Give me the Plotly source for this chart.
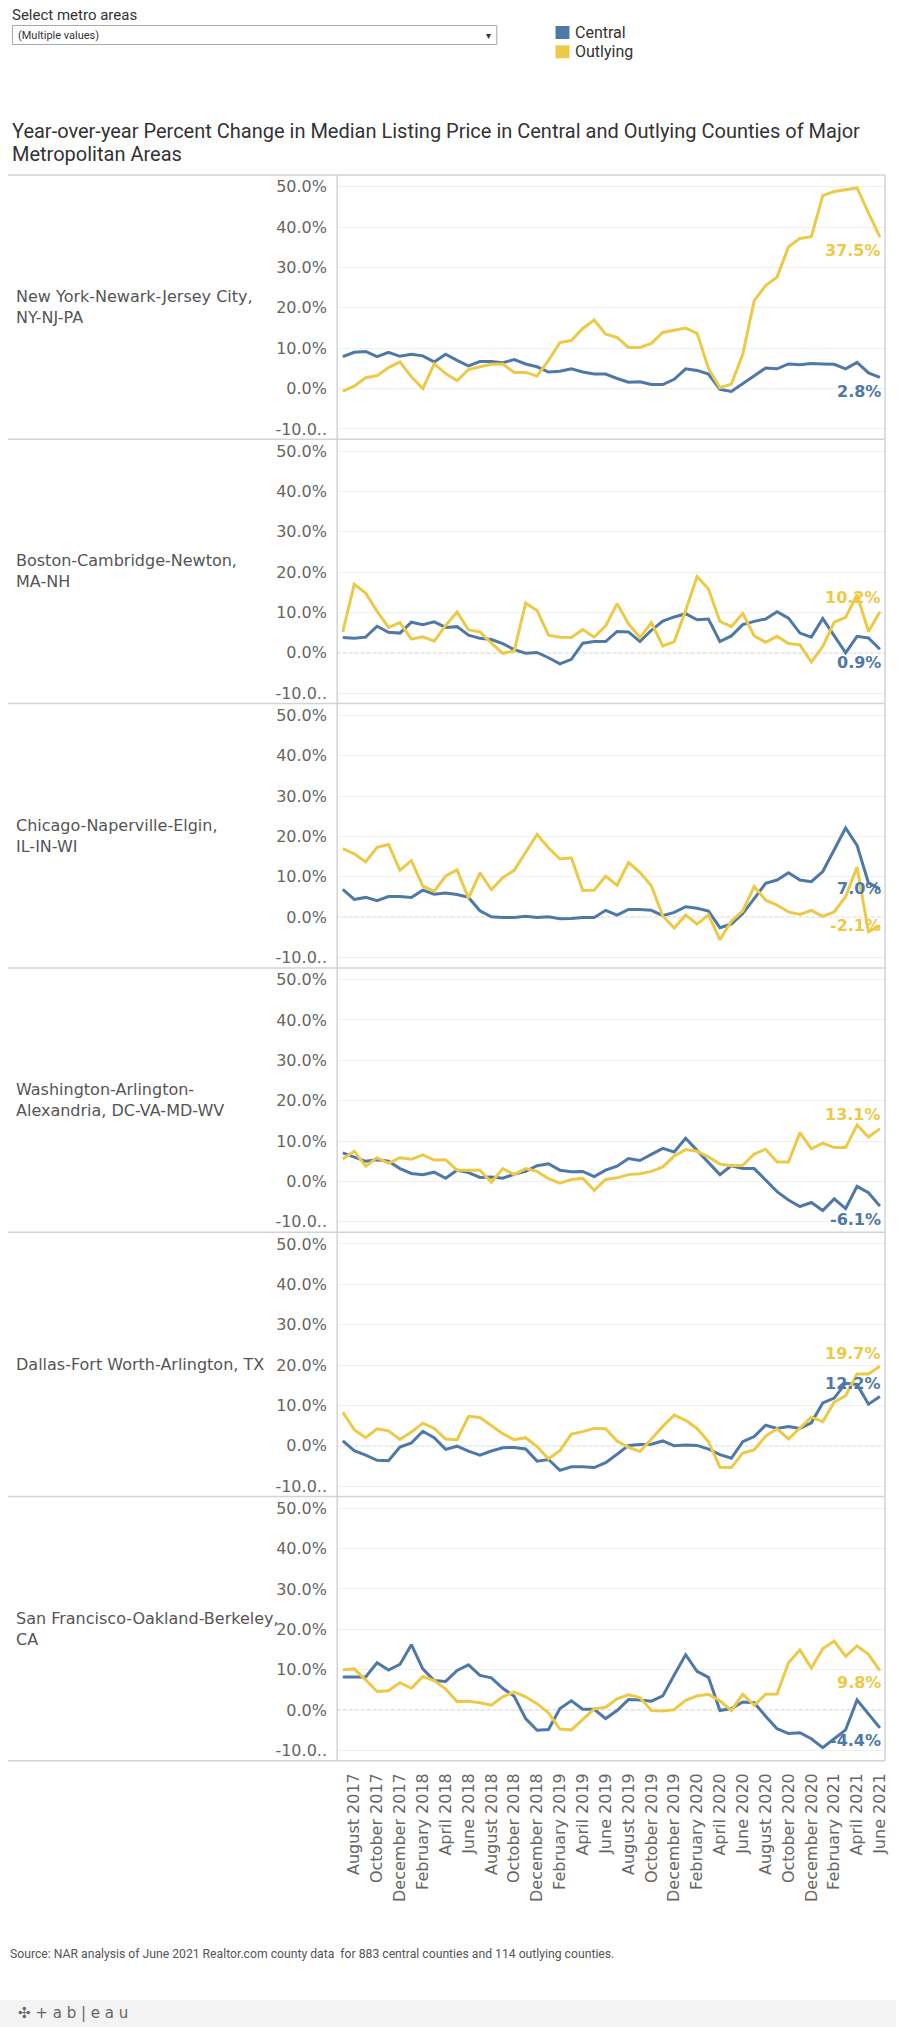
import plotly.graph_objects as go
from plotly.subplots import make_subplots

# ---------------- data ----------------
months = [
    "July 2017", "August 2017", "September 2017", "October 2017", "November 2017", "December 2017",
    "January 2018", "February 2018", "March 2018", "April 2018", "May 2018", "June 2018",
    "July 2018", "August 2018", "September 2018", "October 2018", "November 2018", "December 2018",
    "January 2019", "February 2019", "March 2019", "April 2019", "May 2019", "June 2019",
    "July 2019", "August 2019", "September 2019", "October 2019", "November 2019", "December 2019",
    "January 2020", "February 2020", "March 2020", "April 2020", "May 2020", "June 2020",
    "July 2020", "August 2020", "September 2020", "October 2020", "November 2020", "December 2020",
    "January 2021", "February 2021", "March 2021", "April 2021", "May 2021", "June 2021",
]

x_tick_labels = [
    "August 2017", "October 2017", "December 2017", "February 2018", "April 2018", "June 2018",
    "August 2018", "October 2018", "December 2018", "February 2019", "April 2019", "June 2019",
    "August 2019", "October 2019", "December 2019", "February 2020", "April 2020", "June 2020",
    "August 2020", "October 2020", "December 2020", "February 2021", "April 2021", "June 2021",
]

y_tick_values = [-10, 0, 10, 20, 30, 40, 50]
y_tick_labels = ["-10.0..", "0.0%", "10.0%", "20.0%", "30.0%", "40.0%", "50.0%"]

metro_names = [
    "New York-Newark-Jersey City,<br>NY-NJ-PA",
    "Boston-Cambridge-Newton,<br>MA-NH",
    "Chicago-Naperville-Elgin,<br>IL-IN-WI",
    "Washington-Arlington-<br>Alexandria, DC-VA-MD-WV",
    "Dallas-Fort Worth-Arlington, TX",
    "San Francisco-Oakland-Berkeley,<br>CA",
]

central_ny = [7.9, 9.0, 9.2, 7.9, 9.0, 8.0, 8.5, 8.1, 6.6, 8.5, 7.0, 5.6, 6.7, 6.7, 6.4, 7.2,
              6.1, 5.4, 4.1, 4.3, 4.9, 4.1, 3.6, 3.6, 2.5, 1.6, 1.7, 1.0, 1.0, 2.3, 4.9, 4.5,
              3.6, -0.2, -0.7, 1.2, 3.2, 5.1, 4.9, 6.1, 5.9, 6.2, 6.1, 6.0, 4.9, 6.5, 3.9, 2.8]
outlying_ny = [-0.6, 0.6, 2.7, 3.2, 5.2, 6.6, 2.9, 0.0, 6.1, 3.7, 2.0, 4.7, 5.4, 6.0, 6.1, 4.0,
               4.0, 3.1, 7.0, 11.4, 11.9, 14.9, 17.0, 13.5, 12.7, 10.2, 10.2, 11.2, 13.9, 14.5, 15.0, 13.7,
               5.0, 0.2, 1.1, 8.5, 21.8, 25.5, 27.6, 35.1, 37.2, 37.6, 47.8, 48.8, 49.3, 49.7, 43.5, 37.5]

central_bos = [3.8, 3.6, 3.9, 6.6, 5.1, 4.9, 7.6, 7.0, 7.7, 6.3, 6.5, 4.4, 3.6, 3.3, 2.3, 0.8,
               -0.1, 0.1, -1.2, -2.7, -1.6, 2.4, 2.8, 2.8, 5.3, 5.2, 2.8, 5.6, 7.9, 8.9, 9.7, 8.2,
               8.4, 2.8, 4.2, 7.0, 7.8, 8.4, 10.2, 8.6, 4.9, 3.9, 8.5, 4.2, 0.0, 4.1, 3.7, 0.9]
outlying_bos = [5.2, 17.0, 14.8, 10.3, 6.3, 7.5, 3.4, 4.0, 2.9, 6.8, 10.1, 5.7, 5.2, 2.4, -0.1, 0.5,
                12.3, 10.5, 4.4, 3.9, 3.8, 5.8, 3.9, 6.7, 12.2, 7.2, 3.8, 7.5, 1.7, 2.8, 10.5, 18.9,
                15.8, 7.8, 6.5, 9.8, 4.2, 2.6, 4.1, 2.3, 2.0, -2.3, 1.6, 7.6, 8.8, 14.4, 5.3, 10.2]

central_chi = [6.9, 4.4, 4.9, 4.1, 5.1, 5.1, 4.9, 6.7, 5.7, 6.0, 5.6, 4.9, 1.6, 0.1, -0.1, -0.1,
               0.2, -0.1, 0.1, -0.4, -0.3, -0.1, -0.1, 1.7, 0.5, 1.9, 1.9, 1.7, 0.4, 1.2, 2.6, 2.2,
               1.5, -2.6, -1.7, 0.9, 4.6, 8.4, 9.2, 11.0, 9.2, 8.8, 11.3, 16.7, 22.1, 17.8, 8.5, 7.0]
outlying_chi = [17.0, 15.7, 13.7, 17.3, 18.0, 11.6, 14.0, 7.7, 6.4, 10.2, 11.7, 4.7, 11.0, 6.8, 9.8, 11.6,
                16.1, 20.5, 17.2, 14.4, 14.7, 6.6, 6.7, 10.2, 7.9, 13.5, 11.1, 7.8, 0.3, -2.7, 0.5, -1.7,
                0.6, -5.6, -1.0, 1.6, 7.6, 4.2, 3.0, 1.3, 0.7, 1.7, 0.2, 1.3, 5.1, 12.4, -3.6, -2.1]

central_dc = [7.1, 6.1, 5.0, 5.4, 5.0, 3.2, 2.0, 1.7, 2.3, 0.8, 2.8, 2.2, 1.0, 1.1, 0.8, 1.8,
              2.5, 3.9, 4.4, 2.8, 2.4, 2.5, 1.2, 2.8, 3.8, 5.7, 5.2, 6.7, 8.2, 7.3, 10.7, 7.7,
              4.8, 1.7, 3.9, 3.2, 3.2, 0.4, -2.5, -4.6, -6.2, -5.2, -7.2, -4.3, -6.7, -1.2, -2.8, -6.1]
outlying_dc = [5.6, 7.5, 3.8, 5.9, 4.5, 5.9, 5.5, 6.6, 5.3, 5.4, 2.8, 2.8, 2.8, -0.2, 3.2, 1.7,
               3.2, 2.5, 0.7, -0.4, 0.5, 0.8, -2.2, 0.5, 0.9, 1.7, 1.9, 2.5, 3.6, 6.3, 7.9, 7.5,
               6.1, 4.3, 3.9, 4.0, 6.8, 8.0, 4.8, 4.8, 12.1, 8.1, 9.5, 8.4, 8.4, 14.0, 11.0, 13.1]

central_dfw = [1.2, -1.2, -2.3, -3.6, -3.7, -0.3, 0.7, 3.6, 2.0, -0.9, -0.1, -1.3, -2.3, -1.3, -0.5, -0.4,
               -0.8, -3.8, -3.4, -6.1, -5.2, -5.2, -5.4, -4.2, -2.1, 0.1, 0.3, 0.4, 1.2, 0.0, 0.2, 0.1,
               -0.8, -2.2, -3.1, 1.0, 2.3, 5.1, 4.3, 4.8, 4.3, 5.7, 10.6, 11.8, 15.5, 15.2, 10.3, 12.2]
outlying_dfw = [8.3, 4.0, 2.0, 4.2, 3.7, 1.6, 3.4, 5.6, 4.3, 1.7, 1.5, 7.3, 7.0, 5.0, 3.0, 1.5,
                2.0, -0.2, -3.2, -1.2, 2.9, 3.5, 4.3, 4.2, 1.2, -0.4, -1.4, 1.7, 4.8, 7.6, 6.3, 4.3,
                1.0, -5.3, -5.4, -1.8, -1.0, 2.4, 4.2, 1.7, 4.3, 7.1, 6.0, 10.8, 12.4, 17.8, 17.8, 19.7]

central_sf = [8.2, 8.2, 8.2, 11.7, 9.9, 11.3, 16.2, 10.2, 7.3, 7.1, 9.8, 11.2, 8.6, 8.0, 5.4, 3.4,
              -2.1, -5.0, -4.8, 0.4, 2.3, 0.2, 0.2, -2.1, -0.1, 2.6, 2.5, 2.2, 3.5, 8.7, 13.7, 9.6,
              8.1, -0.1, 0.4, 2.0, 1.8, -1.5, -4.6, -5.8, -5.6, -7.1, -9.3, -7.1, -4.9, 2.5, -0.9, -4.4]
outlying_sf = [10.0, 10.2, 7.5, 4.6, 4.8, 6.8, 5.4, 8.3, 7.3, 5.2, 2.1, 2.2, 1.8, 1.2, 3.3, 4.5,
               3.3, 1.6, -0.7, -4.7, -4.9, -2.3, 0.3, 0.7, 2.8, 3.8, 3.1, -0.1, -0.2, 0.1, 2.4, 3.5,
               3.9, 2.3, -0.1, 3.9, 1.2, 3.9, 4.0, 11.7, 14.9, 10.4, 15.2, 17.1, 13.3, 15.9, 13.8, 9.8]

central_series = [central_ny, central_bos, central_chi, central_dc, central_dfw, central_sf]
outlying_series = [outlying_ny, outlying_bos, outlying_chi, outlying_dc, outlying_dfw, outlying_sf]

title_lines = [
    "Year-over-year Percent Change in Median Listing Price in Central and Outlying Counties of Major",
    "Metropolitan Areas",
]

# ---------------- styling / layout ----------------
BLUE = "#4e79a7"
YELLOW = "#edc948"
W, H = 900.0, 2027.0
PANEL_TOP = 175.0
PANEL_H = 264.3
PLOT_L = 338.7
PLOT_R = 889.0
Y_RANGE = [-12.56, 52.9]
X_RANGE = [-0.49, 47.45]
SEP = "#d3d3d3"
AXIS_FONT = dict(family="DejaVu Sans", size=16, color="#666666")
# end-label vertical offsets in px (central, outlying) per panel
label_shift = [(-14, -13), (-13, 14), (0, 0), (-13, 14), (13, 13), (-13, -12)]


def py(p):
    return 1 - p / H


def px(p):
    return p / W


fig = make_subplots(rows=6, cols=1, shared_xaxes=True, vertical_spacing=0)

for r in range(6):
    fig.add_trace(go.Scatter(x=months, y=central_series[r], mode="lines", name="Central",
                             line=dict(color=BLUE, width=3), showlegend=False,
                             hoverinfo="skip"), row=r + 1, col=1)
    fig.add_trace(go.Scatter(x=months, y=outlying_series[r], mode="lines", name="Outlying",
                             line=dict(color=YELLOW, width=3), showlegend=False,
                             hoverinfo="skip"), row=r + 1, col=1)

annotations = []
shapes = []
for r in range(6):
    top = PANEL_TOP + PANEL_H * r
    sfx = "" if r == 0 else str(r + 1)
    fig.layout["yaxis" + sfx].update(
        domain=[py(top + PANEL_H), py(top)], range=Y_RANGE,
        tickmode="array", tickvals=y_tick_values, ticktext=y_tick_labels,
        showgrid=True, gridcolor="#efefef", gridwidth=1, zeroline=False, showline=False,
        ticks="outside", ticklen=6, tickcolor="rgba(0,0,0,0)", tickfont=AXIS_FONT,
        fixedrange=True)
    fig.layout["xaxis" + sfx].update(
        domain=[px(PLOT_L), px(PLOT_R)], range=X_RANGE, type="category",
        showgrid=False, zeroline=False, showline=False,
        showticklabels=(r == 5), tickmode="array", tickvals=x_tick_labels, ticktext=x_tick_labels,
        tickangle=-90, ticks="outside", ticklen=5, tickcolor="rgba(0,0,0,0)",
        tickfont=AXIS_FONT, fixedrange=True)

    # dotted zero line
    shapes.append(dict(type="line", xref="paper", yref="y" + sfx, x0=px(PLOT_L), x1=px(PLOT_R),
                       y0=0, y1=0, line=dict(color="#b0b0b0", width=1, dash="dot"),
                       layer="between"))

    # row header
    annotations.append(dict(xref="paper", yref="paper", x=px(14), y=py(top + PANEL_H / 2),
                            xanchor="left", yanchor="middle", align="left", showarrow=False,
                            text=metro_names[r],
                            font=dict(family="DejaVu Sans", size=16, color="#555555")))

    # end labels
    for series, color, shift in ((central_series[r], BLUE, label_shift[r][0]),
                                 (outlying_series[r], YELLOW, label_shift[r][1])):
        annotations.append(dict(xref="x" + sfx, yref="y" + sfx, x=months[-1], y=series[-1],
                                xanchor="right", yanchor="middle", xshift=3, yshift=shift,
                                showarrow=False, text=f"{series[-1]:.1f}%",
                                font=dict(family="DejaVu Sans", size=16, color=color,
                                          weight="bold")))

# panel separators and borders
for k in range(7):
    yy = PANEL_TOP + PANEL_H * k
    shapes.append(dict(type="line", xref="paper", yref="paper", x0=px(8), x1=px(PLOT_R),
                       y0=py(yy), y1=py(yy), line=dict(color=SEP, width=1.5)))
for xx in (PLOT_L, PLOT_R):
    shapes.append(dict(type="line", xref="paper", yref="paper", x0=px(xx), x1=px(xx),
                       y0=py(PANEL_TOP), y1=py(PANEL_TOP + 6 * PANEL_H),
                       line=dict(color=SEP, width=1.5)))

# filter control
shapes.append(dict(type="rect", xref="paper", yref="paper", x0=px(12.5), x1=px(499),
                   y0=py(44.5), y1=py(25.5), line=dict(color="#a8a8a8", width=1),
                   fillcolor="white"))
annotations.append(dict(xref="paper", yref="paper", x=px(10), y=py(15), xanchor="left",
                        yanchor="middle", showarrow=False, text="Select metro areas",
                        font=dict(family="Roboto", size=15, color="#333333")))
annotations.append(dict(xref="paper", yref="paper", x=px(16), y=py(35), xanchor="left",
                        yanchor="middle", showarrow=False, text="(Multiple values)",
                        font=dict(family="Roboto", size=11, color="#333333")))
annotations.append(dict(xref="paper", yref="paper", x=px(491), y=py(35), xanchor="center",
                        yanchor="middle", showarrow=False, text="▾",
                        font=dict(family="DejaVu Sans", size=10, color="#333333")))

# color legend
for i, (name, color) in enumerate((("Central", BLUE), ("Outlying", YELLOW))):
    y0 = 26 + 19.3 * i
    shapes.append(dict(type="rect", xref="paper", yref="paper", x0=px(558), x1=px(572),
                       y0=py(y0 + 13), y1=py(y0), line=dict(width=0), fillcolor=color))
    annotations.append(dict(xref="paper", yref="paper", x=px(576), y=py(y0 + 6.5),
                            xanchor="left", yanchor="middle", showarrow=False, text=name,
                            font=dict(family="Roboto", size=16, color="#333333")))

# title (two lines placed individually)
for i, line in enumerate(title_lines):
    annotations.append(dict(xref="paper", yref="paper", x=px(10), y=py(131 + 23 * i),
                            xanchor="left", yanchor="middle", align="left", showarrow=False,
                            text=line, font=dict(family="Roboto", size=20, color="#333333")))

# source note
annotations.append(dict(xref="paper", yref="paper", x=px(8), y=py(1954), xanchor="left",
                        yanchor="middle", showarrow=False,
                        text="Source: NAR analysis of June 2021 Realtor.com county data  for 883 "
                             "central counties and 114 outlying counties.",
                        font=dict(family="Roboto", size=12.2, color="#555555")))

# tableau footer bar
shapes.append(dict(type="rect", xref="paper", yref="paper", x0=0, x1=1, y0=0, y1=py(2000),
                   line=dict(width=0), fillcolor="#f3f3f3", layer="below"))
annotations.append(dict(xref="paper", yref="paper", x=px(16), y=py(2013), xanchor="left",
                        yanchor="middle", showarrow=False, text="✣ + a b | e a u",
                        font=dict(family="DejaVu Sans", size=15, color="#666666")))

fig.update_layout(
    width=900, height=2027,
    margin=dict(l=0, r=0, t=0, b=0),
    paper_bgcolor="white", plot_bgcolor="white",
    showlegend=False, hovermode=False,
    annotations=annotations, shapes=shapes,
)

fig.write_html("out.html", config={"displayModeBar": False},
               post_script="document.body.style.margin='0';")
